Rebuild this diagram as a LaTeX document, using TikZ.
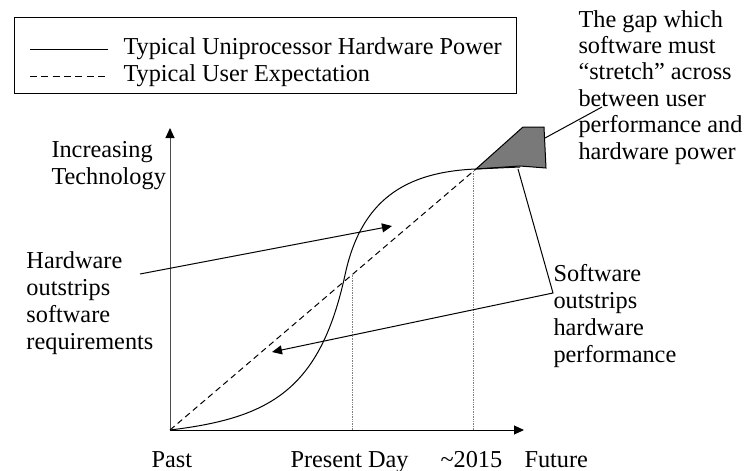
\documentclass[tikz,border=0pt]{standalone}
\usepackage{fontspec}
\setmainfont{Liberation Serif}
\usetikzlibrary{arrows.meta}

\begin{document}
\begin{tikzpicture}[x=1pt, y=-1pt, line width=1pt,
  every node/.style={font=\fontsize{24.3}{27}\selectfont, inner sep=0pt},
  lbl/.style={anchor=base west, align=left},
  ptr/.style={-{Triangle[length=10pt,width=9pt]}}]
  \useasboundingbox (0,0) rectangle (745,471);
  % legend
  \node[draw, anchor=north west, minimum width=502pt, minimum height=76pt]
    (legend) at (14,17) {};
  \coordinate (k1a) at (30,49);  \coordinate (k1b) at (108,49);
  \coordinate (k2a) at (30,76);  \coordinate (k2b) at (108,76);
  \draw (k1a) -- (k1b);
  \draw[dash pattern=on 7pt off 4.3pt] (k2a) -- (k2b);
  \node[lbl] (hwkey) at (123,54) {Typical Uniprocessor Hardware Power};
  \node[lbl] (usrkey) at (123,81) {Typical User Expectation};
  % axes
  \coordinate (O) at (170,430);
  \coordinate (ytop) at (170,128);
  \coordinate (xend) at (524,430);
  \draw[gray!60!black, -{Triangle[length=10pt,width=9pt,black]}] (O) -- (ytop);
  \draw[ptr] (O) -- (xend);
  % dotted markers
  \coordinate (now) at (352,430);  \coordinate (nowtop) at (352,275);
  \coordinate (y15) at (473,430);  \coordinate (y15top) at (473,170);
  \draw[gray, line width=0.7pt, densely dotted] (now) -- (nowtop);
  \draw[gray, line width=0.7pt, densely dotted] (y15) -- (y15top);
  % the gap
  \coordinate (meet) at (476,169);
  \filldraw[fill=gray!95!black] (meet) -- (523,127) -- (544,127)
    -- (546,168) -- (520,166) -- cycle;
  % hardware power and user expectation
  \coordinate (bend) at (345,275);
  \draw (O) .. controls (270,418) and (320,390) .. (bend)
    .. controls (361,200) and (405,172) .. (meet) -- (520,167);
  \draw[dash pattern=on 6pt off 4pt] (O) -- (meet);
  % labels (anchored at the baseline of the last line)
  \node[lbl] (tech) at (51,184) {Increasing\\Technology};
  \node[lbl] (hwtext) at (26,349) {Hardware\\outstrips\\software\\requirements};
  \node[lbl] (swtext) at (553,362) {Software\\outstrips\\hardware\\performance};
  \node[lbl, font=\fontsize{24.3}{26.4}\selectfont] (gaptext) at (578,159)
    {The gap which\\software must\\``stretch'' across\\between user\\performance and\\hardware power};
  \node[lbl] (past) at (151,467) {Past};
  \node[lbl] (present) at (290,467) {Present Day};
  \node[lbl] (y2015) at (440,467) {\textasciitilde2015};
  \node[lbl] (future) at (524,467) {Future};
  % leaders
  \coordinate (hwa) at (140,274);  \coordinate (hwb) at (392,226);
  \coordinate (swa) at (518,169);  \coordinate (swb) at (553,293);
  \coordinate (swc) at (272,352);
  \coordinate (gpa) at (545,138);  \coordinate (gpb) at (602,107);
  \draw[ptr] (hwa) -- (hwb);
  \draw[ptr] (swa) -- (swb) -- (swc);
  \draw (gpa) -- (gpb);
\end{tikzpicture}
\end{document}
